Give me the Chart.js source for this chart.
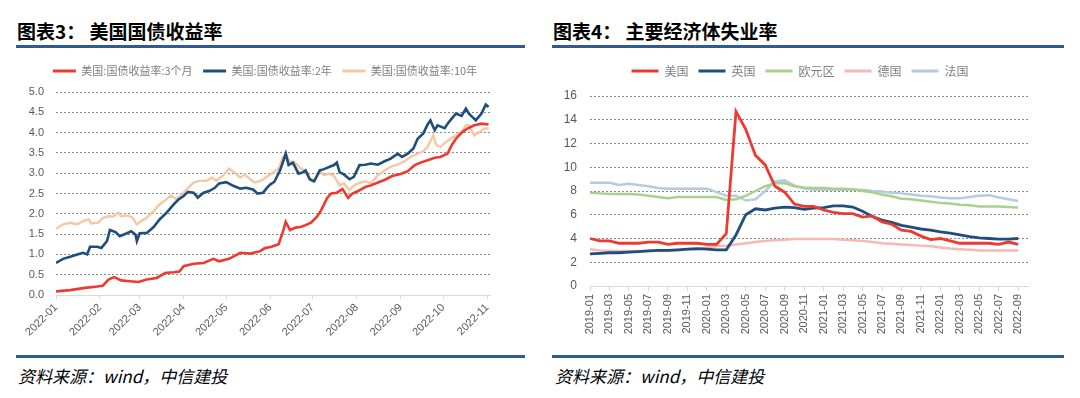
<!DOCTYPE html>
<html>
<head>
<meta charset="utf-8">
<script src="https://cdn.jsdelivr.net/npm/chart.js@4.4.0/dist/chart.umd.min.js"></script>
<style>
  body { margin: 0; width: 1080px; height: 398px; background: #fff; position: relative; overflow: hidden; font-family: "Noto Sans CJK SC", sans-serif; }
  .title { position: absolute; top: 18px; font-size: 19px; font-weight: 700; color: #000; line-height: 26px; white-space: nowrap; }
  .rule { position: absolute; height: 3px; background: #2f5b8f; }
  .src { position: absolute; top: 364px; font-size: 17px; font-style: italic; color: #000; line-height: 24px; white-space: nowrap; }
  canvas { position: absolute; top: 55px; }
</style>
</head>
<body>
<div class="title" style="left:17px">图表3：&nbsp;美国国债收益率</div>
<div class="title" style="left:553px">图表4：&nbsp;主要经济体失业率</div>
<div class="rule" style="left:16px;width:509px;top:45px"></div>
<div class="rule" style="left:552px;width:512px;top:45px"></div>

<canvas id="yieldChart" width="520" height="290" style="left:0"></canvas>
<canvas id="jobsChart" width="540" height="290" style="left:540px"></canvas>

<div class="rule" style="left:16px;width:509px;top:355px"></div>
<div class="rule" style="left:552px;width:512px;top:355px"></div>
<div class="src" style="left:18px">资料来源：wind，中信建投</div>
<div class="src" style="left:555px">资料来源：wind，中信建投</div>

<script>
// ---- chart 3: US treasury yields, x = days since 2022-01-01
var monthTicks = [0, 31, 59, 90, 120, 151, 181, 212, 243, 273, 304];
var monthLabels = ["2022-01", "2022-02", "2022-03", "2022-04", "2022-05", "2022-06",
  "2022-07", "2022-08", "2022-09", "2022-10", "2022-11"];

var days3m = [0, 10, 19, 29, 33, 37, 41, 46, 52, 58, 64, 71, 77, 83, 87, 90, 97, 104, 111, 115, 122, 130, 137, 144,
  147, 152, 157, 160, 162, 165, 169, 173, 176, 180, 184, 187, 191, 194, 198, 202, 206, 209, 213, 218, 222, 227,
  232, 237, 243, 248, 253, 257, 262, 267, 271, 276, 279, 282, 286, 290, 295, 300, 305];
var rate3m = [0.09, 0.12, 0.17, 0.21, 0.23, 0.38, 0.44, 0.36, 0.34, 0.32, 0.38, 0.42, 0.54, 0.56, 0.58, 0.71, 0.77, 0.79, 0.89, 0.83, 0.89, 1.04, 1.02, 1.08,
  1.15, 1.19, 1.25, 1.56, 1.80, 1.60, 1.66, 1.68, 1.72, 1.79, 1.93, 2.09, 2.38, 2.50, 2.52, 2.61, 2.39, 2.50, 2.56, 2.66, 2.70, 2.77,
  2.84, 2.93, 2.98, 3.05, 3.20, 3.26, 3.32, 3.38, 3.40, 3.48, 3.69, 3.85, 4.00, 4.10, 4.18, 4.22, 4.20];

var days2y = [0, 5, 10, 15, 19, 22, 24, 29, 32, 36, 38, 42, 45, 50, 53, 56, 57, 59, 64, 69, 73, 78, 83, 86, 90, 93, 97, 100,
  104, 108, 112, 115, 120, 125, 130, 134, 139, 142, 146, 149, 151, 154, 158, 162, 164, 167, 171, 174, 176, 179, 182,
  186, 189, 193, 196, 198, 200, 203, 207, 210, 214, 218, 222, 227, 232, 236, 241, 244, 248, 252, 255, 259, 262, 264,
  267, 269, 274, 277, 282, 286, 289, 291, 296, 300, 303, 305];
var rate2y = [0.79, 0.89, 0.94, 1.00, 1.04, 1.00, 1.19, 1.19, 1.16, 1.33, 1.60, 1.55, 1.45, 1.52, 1.57, 1.49, 1.33, 1.52, 1.53, 1.68, 1.86, 2.03, 2.23, 2.34, 2.44, 2.54, 2.52, 2.40,
  2.52, 2.56, 2.64, 2.75, 2.78, 2.69, 2.62, 2.64, 2.60, 2.50, 2.52, 2.65, 2.72, 2.79, 3.07, 3.48, 3.20, 3.26, 2.99, 3.02, 3.07, 2.85, 2.80,
  3.07, 3.10, 3.16, 3.20, 3.26, 3.02, 2.97, 2.85, 2.91, 3.20, 3.21, 3.24, 3.21, 3.30, 3.36, 3.48, 3.40, 3.48, 3.61, 3.85, 3.98, 4.20, 4.30,
  4.06, 4.18, 4.11, 4.26, 4.47, 4.41, 4.59, 4.47, 4.30, 4.47, 4.69, 4.63];

var days10y = [0, 5, 10, 15, 19, 23, 25, 30, 33, 37, 40, 44, 46, 51, 54, 57, 60, 64, 69, 73, 78, 81, 85, 88, 92, 97, 101, 106,
  110, 113, 118, 122, 126, 130, 133, 137, 140, 144, 147, 152, 157, 160, 162, 165, 168, 172, 175, 179, 182, 186, 189,
  193, 196, 200, 203, 207, 209, 213, 218, 222, 227, 232, 236, 241, 246, 250, 255, 259, 262, 266, 268, 271, 275, 279,
  282, 286, 289, 291, 295, 299, 302, 305];
var rate10y = [1.63, 1.74, 1.78, 1.74, 1.82, 1.86, 1.76, 1.78, 1.90, 1.94, 1.93, 2.03, 1.94, 1.96, 1.90, 1.74, 1.82, 1.90, 2.07, 2.23, 2.36, 2.45, 2.36, 2.45, 2.60, 2.77, 2.81, 2.81,
  2.89, 2.81, 2.95, 3.11, 3.01, 2.89, 2.97, 2.85, 2.77, 2.81, 2.87, 2.99, 3.11, 3.40, 3.46, 3.28, 3.28, 3.13, 3.07, 2.83, 2.79, 3.05, 2.95,
  2.99, 2.93, 2.70, 2.75, 2.58, 2.66, 2.75, 2.80, 2.75, 2.95, 3.07, 3.16, 3.21, 3.30, 3.40, 3.48, 3.54, 3.65, 3.93, 3.69, 3.65, 3.77, 3.87,
  3.93, 4.02, 4.18, 4.18, 3.93, 4.02, 4.10, 4.10];

// ---- chart 4: unemployment rates, monthly from 2019-01
var months = ["2019-01", "2019-02", "2019-03", "2019-04", "2019-05", "2019-06", "2019-07", "2019-08", "2019-09", "2019-10", "2019-11", "2019-12",
  "2020-01", "2020-02", "2020-03", "2020-04", "2020-05", "2020-06", "2020-07", "2020-08", "2020-09", "2020-10", "2020-11", "2020-12",
  "2021-01", "2021-02", "2021-03", "2021-04", "2021-05", "2021-06", "2021-07", "2021-08", "2021-09", "2021-10", "2021-11", "2021-12",
  "2022-01", "2022-02", "2022-03", "2022-04", "2022-05", "2022-06", "2022-07", "2022-08", "2022-09", "2022-10"];
var usRate = [4.0, 3.8, 3.8, 3.6, 3.6, 3.6, 3.7, 3.7, 3.5, 3.6, 3.6, 3.6,
  3.5, 3.5, 4.4, 14.7, 13.2, 11.0, 10.2, 8.4, 7.9, 6.9, 6.7, 6.7,
  6.4, 6.2, 6.1, 6.1, 5.8, 5.9, 5.4, 5.2, 4.7, 4.6, 4.2, 3.9,
  4.0, 3.8, 3.6, 3.6, 3.6, 3.6, 3.5, 3.7, 3.5];
var ukRate = [2.7, 2.75, 2.8, 2.8, 2.85, 2.9, 2.95, 3.0, 3.0, 3.05, 3.1, 3.15,
  3.1, 3.05, 3.05, 4.3, 6.0, 6.5, 6.4, 6.55, 6.65, 6.6, 6.45, 6.55,
  6.6, 6.75, 6.75, 6.65, 6.3, 5.85, 5.55, 5.35, 5.1, 4.95, 4.8, 4.7,
  4.55, 4.45, 4.3, 4.15, 4.05, 4.0, 3.95, 3.95, 4.0];
var euroRate = [7.85, 7.8, 7.75, 7.75, 7.75, 7.7, 7.6, 7.5, 7.4, 7.5, 7.5, 7.5,
  7.5, 7.5, 7.25, 7.3, 7.6, 8.0, 8.4, 8.65, 8.65, 8.4, 8.3, 8.25,
  8.25, 8.2, 8.2, 8.15, 8.0, 7.9, 7.7, 7.55, 7.35, 7.3, 7.2, 7.1,
  7.0, 6.95, 6.85, 6.8, 6.7, 6.7, 6.7, 6.65, 6.6];
var deRate = [3.1, 3.0, 2.95, 2.95, 2.95, 2.95, 2.95, 2.95, 2.95, 3.0, 3.05, 3.1,
  3.25, 3.35, 3.4, 3.5, 3.6, 3.7, 3.8, 3.85, 3.9, 3.95, 3.95, 3.95,
  3.95, 3.95, 3.9, 3.85, 3.8, 3.7, 3.6, 3.55, 3.5, 3.45, 3.4, 3.35,
  3.25, 3.15, 3.1, 3.05, 3.0, 3.0, 3.0, 3.0, 3.0];
var frRate = [8.7, 8.7, 8.7, 8.5, 8.6, 8.5, 8.4, 8.25, 8.2, 8.2, 8.2, 8.2,
  8.2, 7.9, 7.6, 7.6, 7.2, 7.3, 8.0, 8.8, 8.9, 8.45, 8.2, 8.1,
  8.1, 8.1, 8.1, 8.1, 8.1, 8.0, 7.95, 7.85, 7.8, 7.7, 7.6, 7.55,
  7.45, 7.38, 7.38, 7.5, 7.6, 7.65, 7.45, 7.3, 7.15];

Chart.defaults.font.family = "'Liberation Sans', Arial, sans-serif";
Chart.defaults.color = "#595959";

// legend: extra gap under it and a horizontal nudge
function legendTweak(extra, dx) {
  return {
    id: "legendTweak",
    beforeInit: function (chart) {
      var fit = chart.legend.fit;
      chart.legend.fit = function () {
        fit.call(this);
        this.height += extra;
      };
    },
    afterLayout: function (chart) {
      chart.legend.left += dx;
      chart.legend.right += dx;
    },
  };
}

function noBorderLabels(chart) {
  return Chart.defaults.plugins.legend.labels.generateLabels(chart).map(function (l) {
    l.lineWidth = 0;
    return l;
  });
}

function points(xs, ys) {
  return xs.map(function (x, i) {
    return { x: x, y: ys[i] };
  });
}

function series(label, color, data, width) {
  return {
    label: label,
    data: data,
    borderColor: color,
    backgroundColor: color,
    borderWidth: width,
    pointRadius: 0,
    tension: 0,
    fill: false,
  };
}

new Chart(document.getElementById("yieldChart").getContext("2d"), {
  type: "line",
  data: {
    datasets: [
      series("美国:国债收益率:3个月", "#ee3a2e", points(days3m, rate3m), 2.6),
      series("美国:国债收益率:2年", "#1f4e7d", points(days2y, rate2y), 2.6),
      series("美国:国债收益率:10年", "#f5c8a4", points(days10y, rate10y), 2.4),
    ],
  },
  options: {
    responsive: false,
    animation: false,
    layout: { padding: { left: 0, right: 30, top: 0, bottom: 0 } },
    plugins: {
      tooltip: { enabled: false },
      legend: {
        labels: {
          boxWidth: 23,
          boxHeight: 3,
          padding: 10.5,
          color: "#7f7f7f",
          font: { family: "'Noto Sans CJK SC', sans-serif", size: 11 },
          generateLabels: noBorderLabels,
        },
      },
    },
    scales: {
      x: {
        type: "linear",
        min: 0,
        max: 306,
        afterBuildTicks: function (s) {
          s.ticks = monthTicks.map(function (v) { return { value: v }; });
        },
        afterFit: function (s) { s.height = 50; },
        grid: { drawOnChartArea: false, drawTicks: true, tickLength: 4, color: "#d9d9d9" },
        border: { display: true, color: "#d9d9d9" },
        ticks: {
          minRotation: 45,
          maxRotation: 45,
          padding: 2,
          font: { size: 11 },
          callback: function (v) { return monthLabels[monthTicks.indexOf(v)]; },
        },
      },
      y: {
        min: 0,
        max: 5,
        afterFit: function (s) { s.width = 56; },
        grid: {
          drawTicks: false,
          color: function (c) { return c.tick && c.tick.value === 0 ? "rgba(0,0,0,0)" : "#8a8a8a"; },
        },
        border: { display: false, dash: [2, 2] },
        ticks: {
          stepSize: 0.5,
          padding: 12,
          font: { size: 11 },
          callback: function (v) { return v.toFixed(1); },
        },
      },
    },
  },
  plugins: [legendTweak(5.5, 20)],
});

new Chart(document.getElementById("jobsChart").getContext("2d"), {
  type: "line",
  data: {
    labels: months,
    datasets: [
      series("美国", "#ee3a2e", usRate, 2.8),
      series("英国", "#1f4e7d", ukRate, 2.8),
      series("欧元区", "#a9d18e", euroRate, 2.5),
      series("德国", "#f7b7b5", deRate, 2.5),
      series("法国", "#b7cadf", frRate, 2.5),
    ],
  },
  options: {
    responsive: false,
    animation: false,
    layout: { padding: { left: 0, right: 52, top: 0, bottom: 0 } },
    plugins: {
      tooltip: { enabled: false },
      legend: {
        labels: {
          boxWidth: 27,
          boxHeight: 3,
          padding: 10,
          color: "#7f7f7f",
          font: { family: "'Noto Sans CJK SC', sans-serif", size: 12 },
          generateLabels: noBorderLabels,
        },
      },
    },
    scales: {
      x: {
        type: "category",
        offset: false,
        afterBuildTicks: function (s) {
          s.ticks = s.ticks.filter(function (t) { return t.value % 2 === 0; });
        },
        afterFit: function (s) { s.height = 59; },
        grid: { drawOnChartArea: false, drawTicks: true, tickLength: 5, color: "#d9d9d9", offset: false },
        border: { display: true, color: "#d9d9d9" },
        ticks: {
          autoSkip: false,
          minRotation: 90,
          maxRotation: 90,
          padding: 3,
          font: { size: 11 },
        },
      },
      y: {
        min: 0,
        max: 16,
        afterFit: function (s) { s.width = 50; },
        grid: {
          drawTicks: false,
          color: function (c) { return c.tick && c.tick.value === 0 ? "rgba(0,0,0,0)" : "#8a8a8a"; },
        },
        border: { display: false, dash: [2, 2] },
        ticks: { stepSize: 2, padding: 13, font: { size: 12 } },
      },
    },
  },
  plugins: [legendTweak(9, 16)],
});
</script>
</body>
</html>
